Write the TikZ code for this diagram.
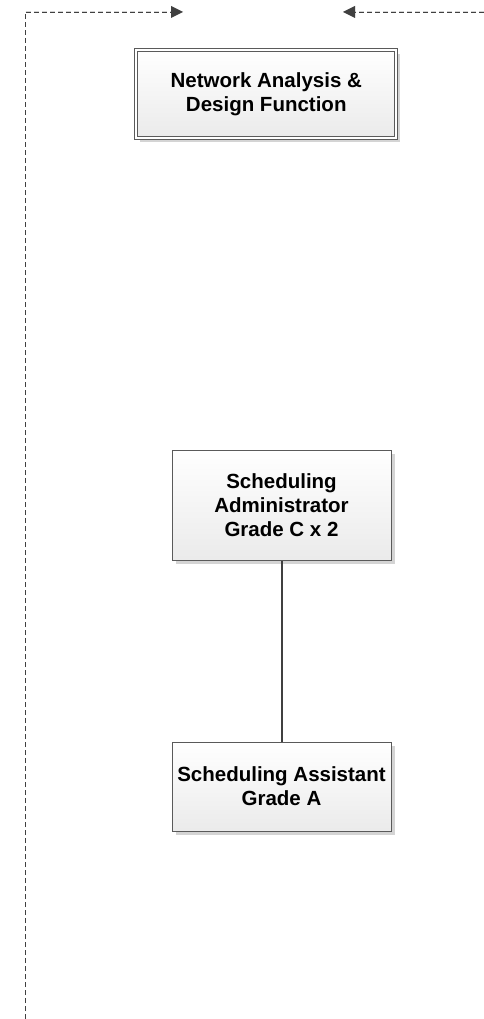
\documentclass[tikz,border=0pt]{standalone}
\usepackage{fontspec}
\setmainfont{Liberation Sans}
\usetikzlibrary{arrows.meta,shadows,calc}
\definecolor{edgegray}{HTML}{5A5A5A}
\definecolor{linegray}{HTML}{404040}
\definecolor{shadowgray}{HTML}{D4D4D4}
\tikzset{
  orgbox/.style={draw=edgegray, line width=1pt, top color=white, bottom color=black!8,
    align=center, inner sep=2pt, font=\fontsize{20.5}{24}\selectfont\bfseries,
    drop shadow={shadow xshift=4pt, shadow yshift=-4pt, fill=shadowgray, opacity=1}},
  dashline/.style={draw=linegray, line width=0.9pt, dash pattern=on 5pt off 3pt},
  dashshadow/.style={draw=shadowgray, line width=1pt, dash pattern=on 5pt off 3pt},
  conn/.style={draw=linegray, line width=2pt}
}
\begin{document}
\begin{tikzpicture}[x=1pt,y=-1pt]
\useasboundingbox (0,0) rectangle (484,1019);
% dashed frame
\coordinate (bl) at (25,1019);
\coordinate (tl) at (25,12);
\coordinate (ta) at (183,12);
\coordinate (tr) at (484,12);
\coordinate (ra) at (343,12);
\begin{scope}[shift={(3,3)}]
\draw[dashshadow] (bl) -- (tl) -- ($(ta)+(-11,0)$);
\draw[dashshadow] (tr) -- ($(ra)+(11,0)$);
\fill[shadowgray] (ta) ++(-12,-6) -- ++(12,6) -- ++(-12,6) -- cycle;
\fill[shadowgray] (ra) ++(12,-6) -- ++(-12,6) -- ++(12,6) -- cycle;
\end{scope}
\draw[dashline] (bl) -- (tl) -- ($(ta)+(-11,0)$);
\fill[linegray] (ta) ++(-12,-6) -- ++(12,6) -- ++(-12,6) -- cycle;
\draw[dashline] (tr) -- ($(ra)+(11,0)$);
\fill[linegray] (ra) ++(12,-6) -- ++(-12,6) -- ++(12,6) -- cycle;
% boxes
\node[orgbox, double=white, double distance=2.2pt, minimum width=260pt, minimum height=88pt] (nad) at (266.25,93.75) {Network Analysis \&\\Design Function};
\node[orgbox, minimum width=219pt, minimum height=110pt] (adm) at (281.5,505) {Scheduling\\Administrator\\Grade C x 2};
\node[orgbox, minimum width=219pt, minimum height=89pt] (ast) at (281.5,786.5) {Scheduling Assistant\\Grade A};
\draw[conn] (adm.south) -- (ast.north);
\end{tikzpicture}
\end{document}
